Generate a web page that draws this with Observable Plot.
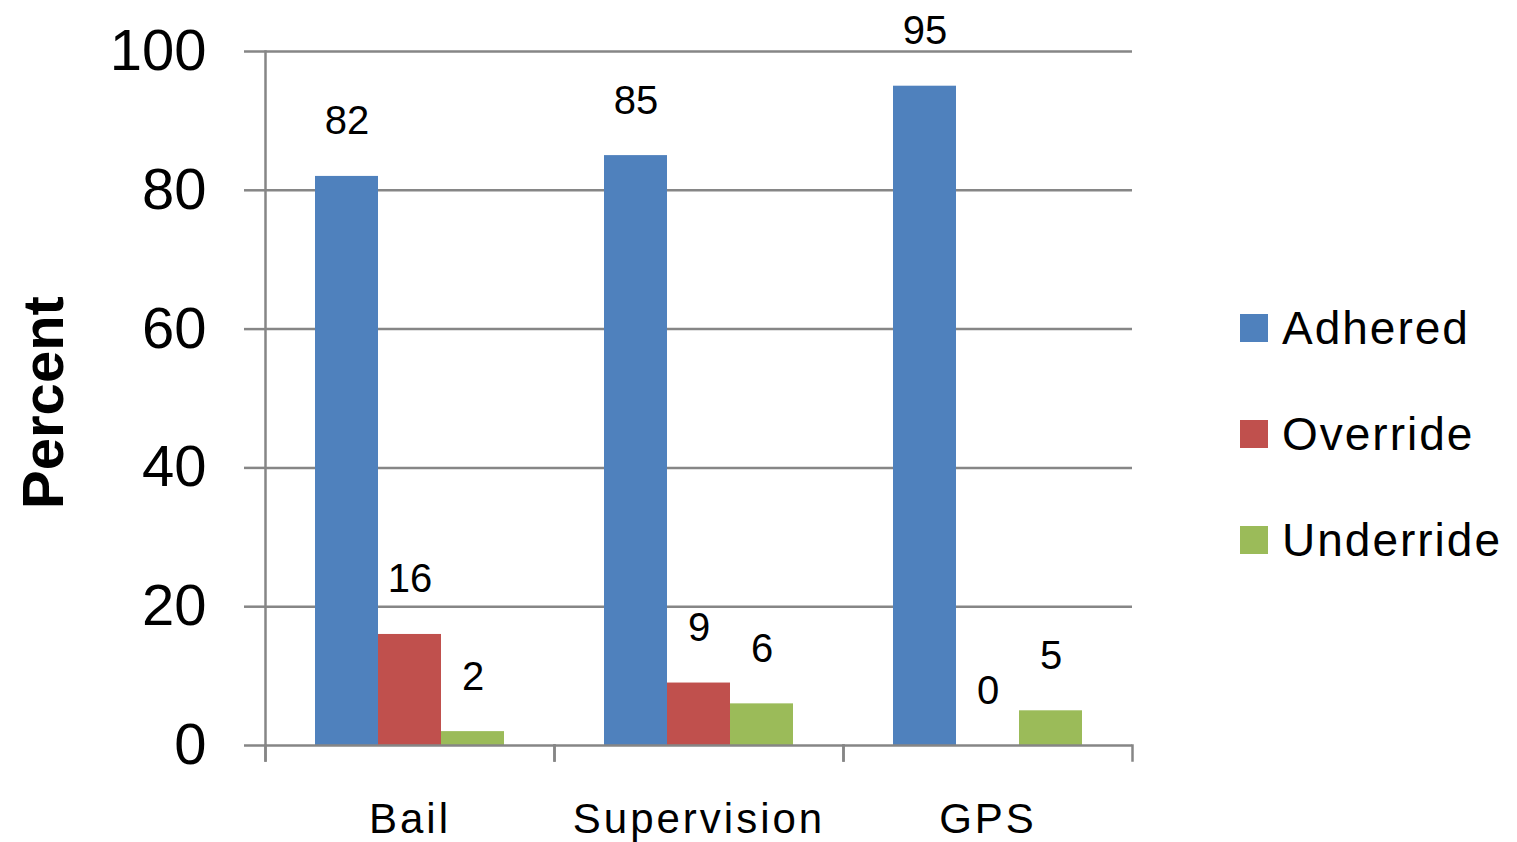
<!DOCTYPE html>
<html>
<head>
<meta charset="utf-8">
<script src="https://cdn.jsdelivr.net/npm/d3@7"></script>
<script src="https://cdn.jsdelivr.net/npm/@observablehq/plot@0.6"></script>
<style>
  body { margin: 0; background: #fff; font-family: "Liberation Sans", Arial, sans-serif; }
  #wrap { position: relative; width: 1517px; height: 842px; }
  #legend { position: absolute; left: 1240px; top: 275px; }
  #legend .item { display: flex; align-items: center; height: 106px; }
  #legend .sw { width: 28px; height: 28px; margin-right: 14px; }
  #legend .lab { font-size: 46px; letter-spacing: 2px; color: #000; line-height: 1; }
  g[aria-label="value labels"] text { letter-spacing: 3px; }
  g[aria-label="fx-axis tick label"] text { letter-spacing: 3px; }
</style>
</head>
<body>
<div id="wrap"><div id="chart"></div><div id="legend"></div></div>
<script>
// Share of cases where the guideline was adhered to, overridden or underridden
const categories = ["Bail", "Supervision", "GPS"];
const series = ["Adhered", "Override", "Underride"];
const adhered = [82, 85, 95];
const override = [16, 9, 0];
const underride = [2, 6, 5];
const colors = ["#4F81BD", "#C0504D", "#9BBB59"];
const yTicks = [0, 20, 40, 60, 80, 100];
const yLabel = "Percent";

const valuesBySeries = [adhered, override, underride];
const rows = categories.flatMap((cat, i) =>
  series.map((s, j) => ({cat, series: s, value: valuesBySeries[j][i]}))
);

const W = 1517, H = 842;
const mTop = 51, mBottom = 97, mLeft = 264, mRight = 384;
const plotH = H - mTop - mBottom;
const axisGray = "#868686";
const tickLen = 15;

const chart = Plot.plot({
  width: W,
  height: H,
  marginTop: mTop,
  marginBottom: mBottom,
  marginLeft: mLeft,
  marginRight: mRight,
  style: {fontFamily: "'Liberation Sans', Arial, sans-serif", color: "#000", background: "#fff"},
  fx: {domain: categories, padding: 0},
  x: {domain: series, paddingInner: 0, paddingOuter: 0.78, axis: null},
  y: {domain: [0, 100]},
  color: {domain: series, range: colors},
  marks: [
    Plot.ruleY(yTicks.filter(d => d > 0), {stroke: axisGray, strokeWidth: 2.5}),
    Plot.barY(rows, {fx: "cat", x: "series", y: "value", fill: "series"}),
    Plot.ruleY([0], {stroke: axisGray, strokeWidth: 2.5}),
    // category boundary ticks below the baseline
    Plot.frame({anchor: "left", stroke: axisGray, strokeWidth: 2.5, insetTop: plotH, insetBottom: -tickLen}),
    Plot.frame({anchor: "right", stroke: axisGray, strokeWidth: 2.5, insetTop: plotH, insetBottom: -tickLen}),
    // value axis line
    Plot.frame({anchor: "left", fx: () => categories[0], stroke: axisGray, strokeWidth: 2.5, insetBottom: -tickLen}),
    Plot.axisY({ticks: yTicks, tickSize: 21, tickPadding: 38, fontSize: 58, label: null,
      stroke: axisGray, strokeWidth: 2.5, fill: "#000"}),
    Plot.axisFx({anchor: "bottom", tickSize: 0, tickPadding: 58, fontSize: 42, label: null, fill: "#000"}),
    Plot.text(rows, {fx: "cat", x: "series", y: "value", text: d => String(d.value),
      dy: -42, lineAnchor: "bottom", fontSize: 40, fill: "#000", ariaLabel: "value labels"}),
    Plot.text([yLabel], {fx: () => categories[0], frameAnchor: "left", textAnchor: "middle",
      rotate: -90, dx: -221, dy: 4, fontSize: 58, fontWeight: "bold", fill: "#000", ariaLabel: "y-axis title"})
  ]
});
document.getElementById("chart").appendChild(chart);

// legend
const legend = d3.select("#legend");
series.forEach((s, i) => {
  const item = legend.append("div").attr("class", "item");
  item.append("div").attr("class", "sw").style("background", colors[i]);
  item.append("div").attr("class", "lab").text(s);
});
</script>
</body>
</html>
